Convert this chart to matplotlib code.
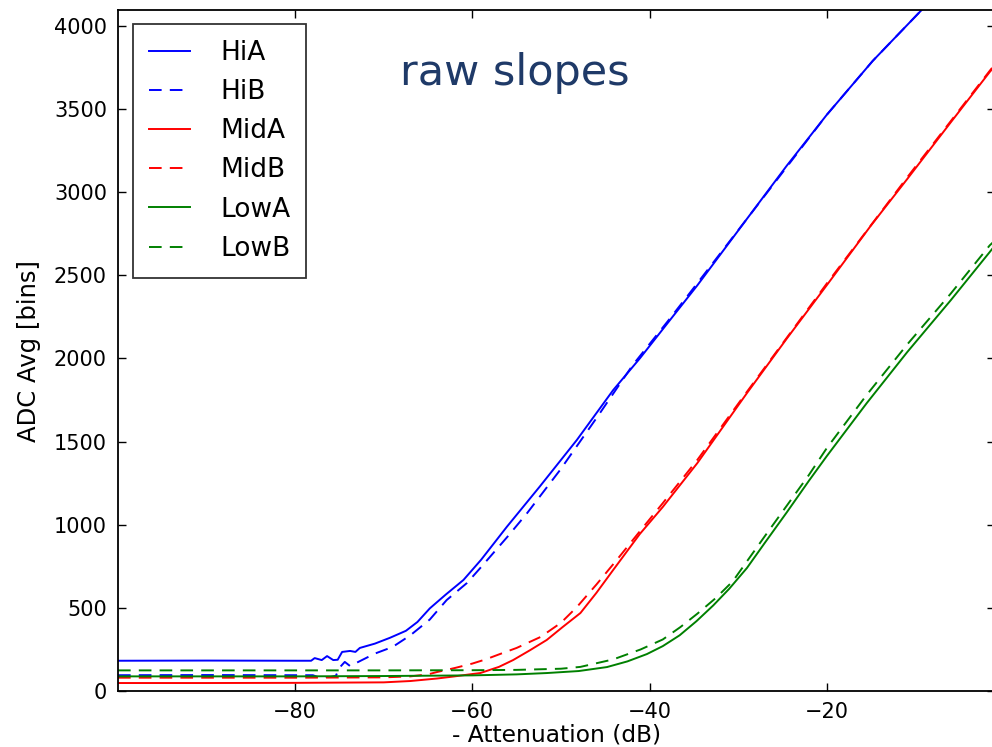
import matplotlib
matplotlib.use("Agg")
import matplotlib.pyplot as plt

# ---- data ----
hiA_x = [-100, -90, -80, -78.2, -77.8, -77.0, -76.4, -75.7, -75.2, -74.7, -73.8, -73.2, -72.7, -71, -69.3,
         -67.5, -66.2, -64.8, -63, -61, -59, -56.1, -52.4, -48.2, -44.1, -41.1, -38, -34.6, -29, -24.5,
         -20, -14.8, -9.5, -5, -1]
hiA_y = [182, 183, 182, 182, 198, 186, 210, 186, 188, 235, 241, 235, 259, 285, 320,
         362, 415, 497, 580, 668, 790, 988, 1229, 1510, 1810, 2000, 2210, 2440, 2840, 3160,
         3465, 3790, 4084, 4330, 4560]

hiB_x = [-100, -90, -80, -78, -77.5, -76, -75.4, -75.0, -74.4, -73.8, -72.5, -71, -69, -67, -64.8,
         -62.9, -60.6, -59, -56, -53.8, -50.1, -45.9, -41.9, -38, -35.8, -29, -20, -14.8, -9.5, -5, -1]
hiB_y = [95, 96, 95, 95, 85, 84, 92, 140, 175, 150, 185, 225, 265, 335, 430,
         547, 650, 746, 930, 1071, 1329, 1648, 1960, 2220, 2370, 2840, 3465, 3790, 4084, 4330, 4560]

midA_x = [-100, -90, -80, -70, -67, -64, -62, -60.3, -59.1, -57, -55.4, -53.5, -51.6, -49.8, -47.8,
          -46, -44.1, -41.1, -38.5, -34.6, -29, -24.5, -20, -15, -10.9, -6, -1.6, -1]
midA_y = [48, 48, 49, 52, 60, 75, 88, 100, 108, 145, 186, 245, 307, 385, 469,
          590, 728, 944, 1107, 1371, 1792, 2120, 2440, 2800, 3080, 3420, 3723, 3760]

midB_x = [-100, -90, -80, -70, -67, -65, -64, -62, -60, -58.5, -57, -55, -52.3, -50, -48.2,
          -46, -43.7, -41.1, -38.5, -34.6, -29, -20, -10.9, -1.6, -1]
midB_y = [80, 80, 80, 82, 88, 100, 114, 138, 165, 190, 220, 259, 325, 410, 505,
          640, 788, 960, 1130, 1390, 1800, 2450, 3090, 3730, 3770]

lowA_x = [-100, -90, -80, -70, -60, -55, -51.6, -48, -44.8, -42.5, -40.3, -38.5, -36.6, -34.7, -32.8,
          -31, -29, -27, -24.5, -22, -20, -15.5, -10.9, -6, -1.6, -1]
lowA_y = [88, 88, 88, 90, 94, 100, 108, 120, 144, 178, 222, 270, 335, 420, 515,
          615, 740, 890, 1075, 1265, 1412, 1730, 2039, 2350, 2640, 2680]

lowB_x = [-100, -90, -80, -70, -60, -55, -50, -47.8, -44.1, -41, -38.5, -36.5, -34.6, -32.5, -30.6,
          -29, -27, -24.5, -22, -20, -15.5, -10.9, -6, -1.6, -1]
lowB_y = [124, 124, 124, 124, 125, 127, 134, 145, 190, 250, 310, 385, 465, 560, 660,
          780, 930, 1115, 1300, 1460, 1780, 2085, 2390, 2680, 2710]

labels = ["HiA", "HiB", "MidA", "MidB", "LowA", "LowB"]
colors = ["#0000ff", "#0000ff", "#ff0000", "#ff0000", "#008000", "#008000"]
xticks = [-80, -60, -40, -20]
yticks = [0, 500, 1000, 1500, 2000, 2500, 3000, 3500, 4000]

series = [(hiA_x, hiA_y), (hiB_x, hiB_y), (midA_x, midA_y), (midB_x, midB_y),
          (lowA_x, lowA_y), (lowB_x, lowB_y)]

fig = plt.figure(figsize=(9.92, 7.47), dpi=100)
ax = fig.add_axes([118 / 992, 56 / 747, 877 / 992, 681 / 747])

for i, ((xs, ys), lab, col) in enumerate(zip(series, labels, colors)):
    if i % 2 == 0:
        ax.plot(xs, ys, color=col, lw=1.4, label=lab)
    else:
        ax.plot(xs, ys, color=col, lw=1.4, label=lab, linestyle=(0, (6.5, 4.2)))

ax.set_xlim(-100, -1)
ax.set_ylim(0, 4096)
ax.set_xticks(xticks)
ax.set_xticklabels([f"\u2212{abs(t)}" for t in xticks])
ax.set_yticks(yticks)
ax.tick_params(direction="in", top=True, right=True, length=6, width=1,
               labelsize=15, pad=8, colors="black")
for sp in ax.spines.values():
    sp.set_linewidth(1.3)

ax.set_xlabel("- Attenuation (dB)", fontsize=16.8, labelpad=1)
ax.set_ylabel("ADC Avg [bins]", fontsize=17.5, labelpad=9)

leg = ax.legend(loc="upper left", bbox_to_anchor=(133 / 992, 1 - 24 / 747),
                bbox_transform=fig.transFigure, fontsize=19, frameon=True,
                fancybox=False, handlelength=1.55, handletextpad=1.15,
                labelspacing=0.5, borderpad=0.6, borderaxespad=0)
leg.get_frame().set_edgecolor("black")
leg.get_frame().set_linewidth(1.3)

fig.text(400 / 992, 1 - 85 / 747, "raw slopes", fontsize=31, color="#1f3a68",
         ha="left", va="baseline")

fig.savefig("out.png", dpi=100)
